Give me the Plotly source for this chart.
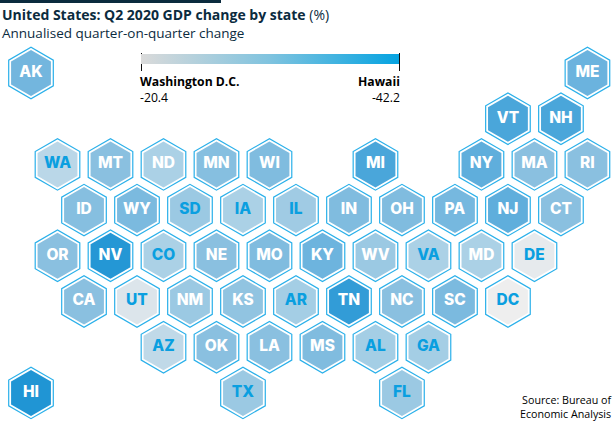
import plotly.graph_objects as go

W, H = 615, 424
states = ["AK","ME","VT","NH","WA","MT","ND","MN","WI","MI","NY","MA","RI",
          "ID","WY","SD","IA","IL","IN","OH","PA","NJ","CT",
          "OR","NV","CO","NE","MO","KY","WV","VA","MD","DE",
          "CA","UT","NM","KS","AR","TN","NC","SC","DC",
          "AZ","OK","LA","MS","AL","GA","HI","TX","FL"]
cols = [1,22,19,21,2,4,6,8,10,14,18,20,22,
        3,5,7,9,11,13,15,17,19,21,
        2,4,6,8,10,12,14,16,18,20,
        3,5,7,9,11,13,15,17,19,
        6,8,10,12,14,16,1,9,15]
rows = [0,0,1,1,2,2,2,2,2,2,2,2,2,
        3,3,3,3,3,3,3,3,3,3,
        4,4,4,4,4,4,4,4,4,4,
        5,5,5,5,5,5,5,5,5,
        6,6,6,6,6,6,7,7,7]
values = [-33.9,-34.8,-38.3,-38.3,-26.5,-31.3,-28.0,-31.7,-32.4,-38.3,-36.1,-31.3,-31.3,
          -31.7,-33.0,-29.6,-28.0,-29.1,-32.4,-32.4,-33.5,-36.1,-31.3,
          -31.3,-41.8,-28.0,-31.3,-32.4,-34.6,-29.6,-28.0,-28.0,-21.5,
          -31.3,-23.0,-29.6,-30.6,-28.7,-40.5,-31.3,-33.0,-20.4,
          -25.9,-31.3,-31.3,-32.4,-28.7,-28.7,-42.2,-29.6,-29.6]
blue_labels = {"WA","SD","IA","IL","CO","UT","AR","AZ","TX","VA","DE","DC","AL","GA","FL"}
legend_values = [20.4, 42.2]

BLUE = "#2AB0EA"
INK = "#0B2B3E"
LABEL_BLUE = "#0A9FE0"
fill_scale = [[0.0,"#2095D4"],[0.18,"#4AA6DA"],[0.35,"#6DB4DE"],[0.5,"#8AC0E0"],
              [0.65,"#ABD1E6"],[0.88,"#DCE5EB"],[1.0,"#EEEEEE"]]
legend_scale = [[0,"#DADADA"],[0.5,"#7FC3DF"],[1,"#05A3E1"]]
FONT = "Open Sans"

fig = go.Figure()
fig.add_trace(go.Scatter(x=cols, y=rows, mode="markers", hoverinfo="skip",
    marker=dict(symbol="hexagon", size=51.5, color="white", line=dict(color=BLUE, width=1.2))))
fig.add_trace(go.Scatter(x=cols, y=rows, mode="markers+text", text=states,
    textposition="middle center",
    textfont=dict(family="Inter", size=15.5, weight=800,
                  color=[LABEL_BLUE if s in blue_labels else "white" for s in states]),
    marker=dict(symbol="hexagon", size=46, color=values, cmin=-42.2, cmax=-20.4,
                colorscale=fill_scale, line=dict(width=0))))
fig.add_trace(go.Scatter(x=[1,1], y=[0,0], mode="markers", hoverinfo="skip",
    marker=dict(size=1, opacity=0, color=legend_values, cmin=20.4, cmax=42.2,
        colorscale=legend_scale, showscale=True,
        colorbar=dict(orientation="h", x=141/W, xanchor="left", xpad=0,
                      y=1-54/H, yanchor="top", ypad=0, len=258, lenmode="pixels",
                      thickness=10, thicknessmode="pixels", outlinewidth=0,
                      ticks="", showticklabels=False))))

def px_x(p): return p/W
def px_y(p): return 1-p/H
shapes = [
    dict(type="rect", xref="paper", yref="paper", x0=0, x1=px_x(221), y0=px_y(3), y1=1,
         fillcolor=INK, line_width=0),
    dict(type="line", xref="paper", yref="paper", x0=px_x(141.5), x1=px_x(141.5), y0=px_y(53), y1=px_y(71),
         line=dict(color="#111111", width=1)),
    dict(type="line", xref="paper", yref="paper", x0=px_x(399.5), x1=px_x(399.5), y0=px_y(53), y1=px_y(71),
         line=dict(color="#111111", width=1)),
]
def note(x, y, text, size, color="#000000", anchor="left", family=FONT):
    return dict(xref="paper", yref="paper", x=px_x(x), y=px_y(y), text=text, showarrow=False,
                xanchor=anchor, yanchor="middle", xshift=0, borderpad=0, borderwidth=0,
                font=dict(family=family, size=size, color=color), align=anchor)
ann = [
    note(2, 14, "<b>United States: Q2 2020 GDP change by state</b> (%)", 14, INK),
    note(2, 33, "Annualised quarter-on-quarter change", 13.5, INK),
    note(140, 89.5, "<b>Washington D.C.</b><br>-20.4", 12.2),
    note(400, 89.5, "<b>Hawaii</b><br>-42.2", 12.2, anchor="right"),
    note(613, 407, "Source: Bureau of<br>Economic Analysis", 10.7, anchor="right"),
]
fig.update_layout(width=W, height=H, paper_bgcolor="white", plot_bgcolor="white",
    margin=dict(l=0, r=0, t=0, b=0, pad=0, autoexpand=False), showlegend=False,
    xaxis=dict(range=[-0.17, 23.04], visible=False, domain=[0,1]),
    yaxis=dict(range=[7.68, -1.597], visible=False, domain=[0,1]),
    shapes=shapes, annotations=ann)
fig.write_html("out.html", config=dict(displayModeBar=False),
               post_script="document.body.style.margin='0';")
